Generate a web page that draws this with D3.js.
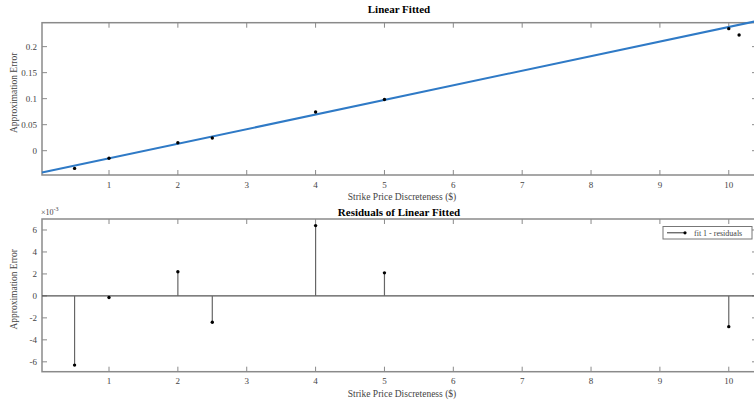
<!DOCTYPE html>
<html>
<head>
<meta charset="utf-8">
<script src="https://cdn.jsdelivr.net/npm/d3@7"></script>
<style>
  body { margin: 0; background: #fff; }
  svg { display: block; font-family: "Liberation Serif", "DejaVu Serif", serif; }
</style>
</head>
<body>
<div id="chart"></div>
<script>
// sample data (strike price discreteness vs approximation error)
const strikeX = [0.5, 1, 2, 2.5, 4, 5, 10, 10.15];
const approxErr = [-0.034, -0.0145, 0.0154, 0.0244, 0.0745, 0.0985, 0.2346, 0.2225];

// linear fit coefficients (y = p1*x + p2)
const p1 = 0.02806;
const p2 = -0.0428;

// residuals of the fit (x10^-3)
const residX = [0.5, 1, 2, 2.5, 4, 5, 10];
const residVals = [-6.3, -0.15, 2.2, -2.4, 6.4, 2.1, -2.8];

const xTicks = [1, 2, 3, 4, 5, 6, 7, 8, 9, 10];
const topYTicks = [0, 0.05, 0.1, 0.15, 0.2];
const botYTicks = [-6, -4, -2, 0, 2, 4, 6];

const W = 754, H = 405;
const svg = d3.select('#chart').append('svg').attr('width', W).attr('height', H);

const axisColor = '#8a8a8a';
const left = 42, right = 757;

const x = d3.scaleLinear().domain([0.027, 10.41]).range([left, right]);

function drawFrame(g, y, top, bottom, yTicks, fmt) {
    // box
    g.append('rect')
        .attr('x', left).attr('y', top)
        .attr('width', right - left).attr('height', bottom - top)
        .attr('fill', 'none').attr('stroke', axisColor).attr('stroke-width', 1.5);

    // inward ticks on all four sides
    const tl = 5;
    g.selectAll('.xt').data(xTicks).join('g').each(function(d) {
        const s = d3.select(this);
        s.append('line').attr('x1', x(d)).attr('x2', x(d)).attr('y1', bottom).attr('y2', bottom - tl)
            .attr('stroke', axisColor);
        s.append('line').attr('x1', x(d)).attr('x2', x(d)).attr('y1', top).attr('y2', top + tl)
            .attr('stroke', axisColor);
        s.append('text').attr('x', x(d)).attr('y', bottom + 12.5)
            .attr('text-anchor', 'middle').attr('font-size', 9).attr('fill', '#444').text(d);
    });
    g.selectAll('.yt').data(yTicks).join('g').each(function(d) {
        const s = d3.select(this);
        s.append('line').attr('x1', left).attr('x2', left + tl).attr('y1', y(d)).attr('y2', y(d))
            .attr('stroke', axisColor);
        s.append('line').attr('x1', right).attr('x2', right - tl).attr('y1', y(d)).attr('y2', y(d))
            .attr('stroke', axisColor);
        s.append('text').attr('x', left - 5).attr('y', y(d) + 3)
            .attr('text-anchor', 'end').attr('font-size', 9).attr('fill', '#444').text(fmt(d));
    });

    g.append('text')
        .attr('x', 402).attr('y', bottom + 25)
        .attr('text-anchor', 'middle').attr('font-size', 9.5).attr('fill', '#444')
        .text('Strike Price Discreteness ($)');

    g.append('text')
        .attr('transform', `translate(17,${(top + bottom) / 2 - 6}) rotate(-90)`)
        .attr('text-anchor', 'middle').attr('font-size', 9.5).attr('fill', '#444')
        .text('Approximation Error');
}

// ---- top: linear fitted ----
const topT = 22.7, topB = 175;
const yTop = d3.scaleLinear().domain([-0.0467, 0.246]).range([topB, topT]);
const gTop = svg.append('g');

gTop.append('text').attr('x', 399).attr('y', 13)
    .attr('text-anchor', 'middle').attr('font-size', 11).attr('font-weight', 'bold')
    .text('Linear Fitted');

drawFrame(gTop, yTop, topT, topB, topYTicks, d => d === 0 ? '0' : String(d));

const xd = x.domain();
gTop.append('line')
    .attr('x1', x(xd[0])).attr('y1', yTop(p1 * xd[0] + p2))
    .attr('x2', x(xd[1])).attr('y2', yTop(p1 * xd[1] + p2))
    .attr('stroke', '#2f7ac6').attr('stroke-width', 2);

gTop.selectAll('.pt').data(strikeX).join('circle')
    .attr('cx', (d) => x(d))
    .attr('cy', (d, i) => yTop(approxErr[i]))
    .attr('r', 1.7).attr('fill', '#000');

// ---- bottom: residuals ----
const botT = 219, botB = 371.7;
const yBot = d3.scaleLinear().domain([-6.9, 7.0]).range([botB, botT]);
const gBot = svg.append('g');

gBot.append('text').attr('x', 399).attr('y', 216)
    .attr('text-anchor', 'middle').attr('font-size', 11).attr('font-weight', 'bold')
    .text('Residuals of Linear Fitted');

drawFrame(gBot, yBot, botT, botB, botYTicks, d => String(d));

const mult = gBot.append('text').attr('x', 41).attr('y', 215)
    .attr('font-size', 8).attr('fill', '#444');
mult.append('tspan').text('×10');
mult.append('tspan').attr('dy', -4).attr('font-size', 6).text('-3');

// zero line
gBot.append('line')
    .attr('x1', left).attr('x2', right).attr('y1', yBot(0)).attr('y2', yBot(0))
    .attr('stroke', '#555').attr('stroke-width', 1.3);

gBot.selectAll('.stem').data(residX).join('line')
    .attr('x1', d => x(d)).attr('x2', d => x(d))
    .attr('y1', yBot(0)).attr('y2', (d, i) => yBot(residVals[i]))
    .attr('stroke', '#666').attr('stroke-width', 1.2);

gBot.selectAll('.rpt').data(residX).join('circle')
    .attr('cx', d => x(d))
    .attr('cy', (d, i) => yBot(residVals[i]))
    .attr('r', 1.7).attr('fill', '#000');

// legend
const lg = gBot.append('g');
lg.append('rect').attr('x', 663).attr('y', 226.5).attr('width', 89).attr('height', 12.5)
    .attr('fill', '#fff').attr('stroke', '#777').attr('stroke-width', 1);
lg.append('line').attr('x1', 667).attr('x2', 685).attr('y1', 232.8).attr('y2', 232.8)
    .attr('stroke', '#333').attr('stroke-width', 1);
lg.append('circle').attr('cx', 685).attr('cy', 232.8).attr('r', 1.6).attr('fill', '#000');
lg.append('text').attr('x', 694).attr('y', 236).attr('font-size', 8).attr('fill', '#444')
    .text('fit 1 - residuals');
</script>
</body>
</html>
